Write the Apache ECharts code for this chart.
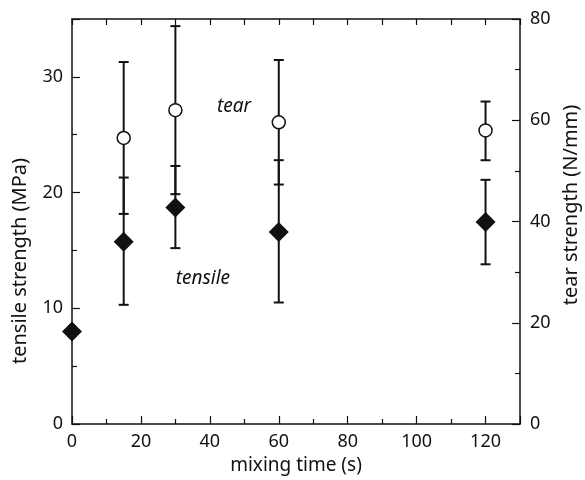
<!DOCTYPE html>
<html>
<head>
<meta charset="utf-8">
<script src="https://cdn.jsdelivr.net/npm/echarts@6/dist/echarts.min.js"></script>
<style>
  html, body { margin: 0; padding: 0; background: #fff; }
  #chart { width: 585px; height: 480px; }
</style>
</head>
<body>
<div id="chart"></div>
<script>
// mixing time (s)
const mixTime = [0, 15, 30, 60, 120];
// tensile strength (MPa), left axis
const tensileMean = [8.0, 15.75, 18.7, 16.6, 17.45];
const tensileLow = [8.0, 10.3, 15.2, 10.5, 13.8];
const tensileHigh = [8.0, 21.3, 22.3, 22.8, 21.1];
// tear strength (N/mm), right axis
const tearTime = [15, 30, 60, 120];
const tearMean = [56.5, 62.0, 59.6, 58.0];
const tearLow = [41.5, 45.4, 47.3, 52.1];
const tearHigh = [71.5, 78.6, 71.9, 63.7];

const FONT = 'Noto Sans';
const INK = '#111';

var chart = echarts.init(document.getElementById('chart'));

// vertical bar with caps, drawn from [x, low, high]
var errorBar = function (params, api) {
  var x = api.value(0);
  var lo = api.coord([x, api.value(1)]);
  var hi = api.coord([x, api.value(2)]);
  var w = 5;
  var style = { stroke: INK, lineWidth: 2 };
  return {
    type: 'group',
    children: [
      { type: 'line', shape: { x1: lo[0], y1: lo[1], x2: hi[0], y2: hi[1] }, style: style },
      { type: 'line', shape: { x1: hi[0] - w, y1: hi[1], x2: hi[0] + w, y2: hi[1] }, style: style },
      { type: 'line', shape: { x1: lo[0] - w, y1: lo[1], x2: lo[0] + w, y2: lo[1] }, style: style },
    ],
  };
};

var tensileBars = mixTime
  .map((t, i) => [t, tensileLow[i], tensileHigh[i]])
  .filter((d) => d[1] !== d[2]);
var tearBars = tearTime.map((t, i) => [t, tearLow[i], tearHigh[i]]);

// each axis gets its own line; onZero off so the twin axes stay on their own side
var axisLine = function () {
  return { show: true, onZero: false, lineStyle: { color: INK, width: 1.5 } };
};
var tickStyle = { color: INK, width: 1.2 };
var tickLabel = { color: INK, fontFamily: FONT, fontSize: 18 };

var option = {
  backgroundColor: '#fff',
  animation: false,
  grid: { left: 72, right: 65, top: 19, bottom: 52 },
  xAxis: [
    {
      type: 'value',
      min: 0,
      max: 130,
      interval: 20,
      name: 'mixing time (s)',
      nameLocation: 'middle',
      nameGap: 32,
      nameTextStyle: { color: INK, fontFamily: FONT, fontSize: 19 },
      axisLine: axisLine(),
      axisTick: { show: true, inside: true, length: 8, lineStyle: tickStyle },
      minorTick: { show: true, splitNumber: 2, length: 5, lineStyle: tickStyle },
      axisLabel: Object.assign({ margin: 9, showMaxLabel: false }, tickLabel),
      splitLine: { show: false },
    },
    {
      type: 'value',
      position: 'top',
      min: 0,
      max: 130,
      interval: 20,
      axisLine: axisLine(),
      axisTick: { show: true, inside: true, length: 6, lineStyle: tickStyle },
      minorTick: { show: true, splitNumber: 2, length: 6, lineStyle: tickStyle },
      axisLabel: { show: false },
      splitLine: { show: false },
    },
  ],
  yAxis: [
    {
      type: 'value',
      min: 0,
      max: 35,
      interval: 10,
      axisLine: axisLine(),
      axisTick: { show: true, inside: true, length: 8, lineStyle: tickStyle },
      minorTick: { show: true, splitNumber: 2, length: 5, lineStyle: tickStyle },
      axisLabel: Object.assign({ margin: 9, showMaxLabel: false }, tickLabel),
      splitLine: { show: false },
    },
    {
      type: 'value',
      position: 'right',
      min: 0,
      max: 80,
      interval: 20,
      axisLine: axisLine(),
      axisTick: { show: true, inside: true, length: 8, lineStyle: tickStyle },
      minorTick: { show: true, splitNumber: 2, length: 5, lineStyle: tickStyle },
      axisLabel: Object.assign({ margin: 10 }, tickLabel),
      splitLine: { show: false },
    },
  ],
  series: [
    {
      name: 'tensile error',
      type: 'custom',
      xAxisIndex: 0,
      yAxisIndex: 0,
      renderItem: errorBar,
      encode: { x: 0, y: [1, 2] },
      data: tensileBars,
      z: 1,
    },
    {
      name: 'tear error',
      type: 'custom',
      xAxisIndex: 0,
      yAxisIndex: 1,
      renderItem: errorBar,
      encode: { x: 0, y: [1, 2] },
      data: tearBars,
      z: 1,
    },
    {
      name: 'tensile',
      type: 'scatter',
      xAxisIndex: 0,
      yAxisIndex: 0,
      symbol: 'diamond',
      symbolSize: [20, 20],
      itemStyle: { color: INK, opacity: 1 },
      data: mixTime.map((t, i) => [t, tensileMean[i]]),
      z: 3,
    },
    {
      name: 'tear',
      type: 'scatter',
      xAxisIndex: 0,
      yAxisIndex: 1,
      symbol: 'circle',
      symbolSize: 13,
      itemStyle: { color: '#fff', borderColor: INK, borderWidth: 1.5, opacity: 1 },
      data: tearTime.map((t, i) => [t, tearMean[i]]),
      z: 3,
    },
  ],
};
chart.setOption(option);

// series labels placed in data space
var tearPos = chart.convertToPixel({ xAxisIndex: 0, yAxisIndex: 0 }, [47, 27.4]);
var tensilePos = chart.convertToPixel({ xAxisIndex: 0, yAxisIndex: 0 }, [38, 12.6]);
var italic = { fill: INK, fontFamily: FONT, fontSize: 19, fontStyle: 'italic', align: 'center', verticalAlign: 'middle' };
// vertical axis titles (the left one sits below the axis middle in the original)
var titleStyle = { fill: INK, fontFamily: FONT, fontSize: 20, align: 'center', verticalAlign: 'middle' };
chart.setOption({
  graphic: [
    { type: 'text', x: tearPos[0], y: tearPos[1], style: Object.assign({ text: 'tear' }, italic) },
    { type: 'text', x: tensilePos[0], y: tensilePos[1], style: Object.assign({ text: 'tensile' }, italic) },
    { type: 'text', x: 20, y: 261, rotation: Math.PI / 2, style: Object.assign({ text: 'tensile strength (MPa)' }, titleStyle) },
    { type: 'text', x: 571, y: 205, rotation: Math.PI / 2, style: Object.assign({ text: 'tear strength (N/mm)' }, titleStyle) },
  ],
});
</script>
</body>
</html>
